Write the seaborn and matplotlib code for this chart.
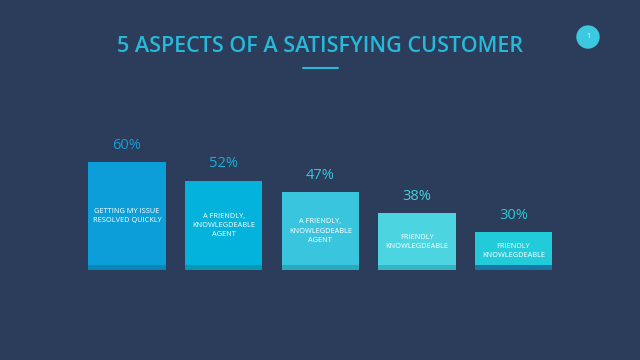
import matplotlib
matplotlib.use("Agg")
import matplotlib.pyplot as plt
import matplotlib.patches as mpatches
import seaborn as sns
import pandas as pd

# chart data
ranks = ["1", "2", "3", "4", "5"]
values = [60, 52, 47, 38, 30]
bar_texts = [
    "GETTING MY ISSUE\nRESOLVED QUICKLY",
    "A FRIENDLY,\nKNOWLEGDEABLE\nAGENT",
    "A FRIENDLY,\nKNOWLEGDEABLE\nAGENT",
    "FRIENDLY\nKNOWLEGDEABLE",
    "FRIENDLY\nKNOWLEGDEABLE",
]
title = "5 ASPECTS OF A SATISFYING CUSTOMER"

bar_colors = ["#0b9ed9", "#03b3db", "#39c5de", "#4cd5e1", "#22cbd9"]
strip_colors = ["#0a86b6", "#0798b8", "#2aa9bf", "#35b6c2", "#1676a8"]
pct_colors = ["#1a9ad8", "#17afd9", "#3cc3dc", "#45cfdc", "#33c7d8"]
bg = "#2b3d5b"

df = pd.DataFrame({"rank": ranks, "value": values})

sns.set_style("white")
plt.rcParams["font.family"] = ["Open Sans", "DejaVu Sans"]

fig = plt.figure(figsize=(6.4, 3.6), dpi=100, facecolor=bg)
ax = fig.add_axes([0.123, 0.25, 0.755, 0.389])
ax.set_facecolor(bg)

sns.barplot(data=df, x="rank", y="value", hue="rank", palette=bar_colors,
            legend=False, width=0.8, saturation=1, linewidth=0, ax=ax)

y0 = 13.7
ax.set_ylim(y0, 73.7)
ax.set_xlim(-0.5, 4.5)

# darker strip at the base of each bar
for i in range(len(values)):
    ax.bar(i, 2.2, bottom=y0, width=0.8, color=strip_colors[i],
           linewidth=0, zorder=3)

for i, (v, t) in enumerate(zip(values, bar_texts)):
    ax.annotate(f"{v}%", (i, v), xytext=(0, 12), textcoords="offset points",
                ha="center", va="center", fontsize=10.5, color=pct_colors[i])
    ax.text(i, (v + y0) / 2, t, ha="center", va="center", fontsize=5.3,
            color="white", linespacing=1.45, zorder=4)

ax.set_xlabel("")
ax.set_ylabel("")
ax.set_xticks([])
ax.set_yticks([])
sns.despine(ax=ax, left=True, bottom=True)

fig.text(0.5, 0.87, title, ha="center", va="center", fontsize=15.5,
         fontweight="semibold", color="#27b9d9")
fig.add_artist(plt.Line2D([303 / 640, 338 / 640], [1 - 68 / 360] * 2,
                          color="#2bb8d8", lw=1.5))

# page number badge
fig.add_artist(mpatches.Ellipse((588 / 640, 1 - 37 / 360), 22 / 640, 22 / 360,
                                color="#3cc8e0"))
fig.text(588 / 640, 1 - 37 / 360, "1", ha="center", va="center",
         fontsize=5, color="white")

fig.savefig("out.png", dpi=100, facecolor=bg)
